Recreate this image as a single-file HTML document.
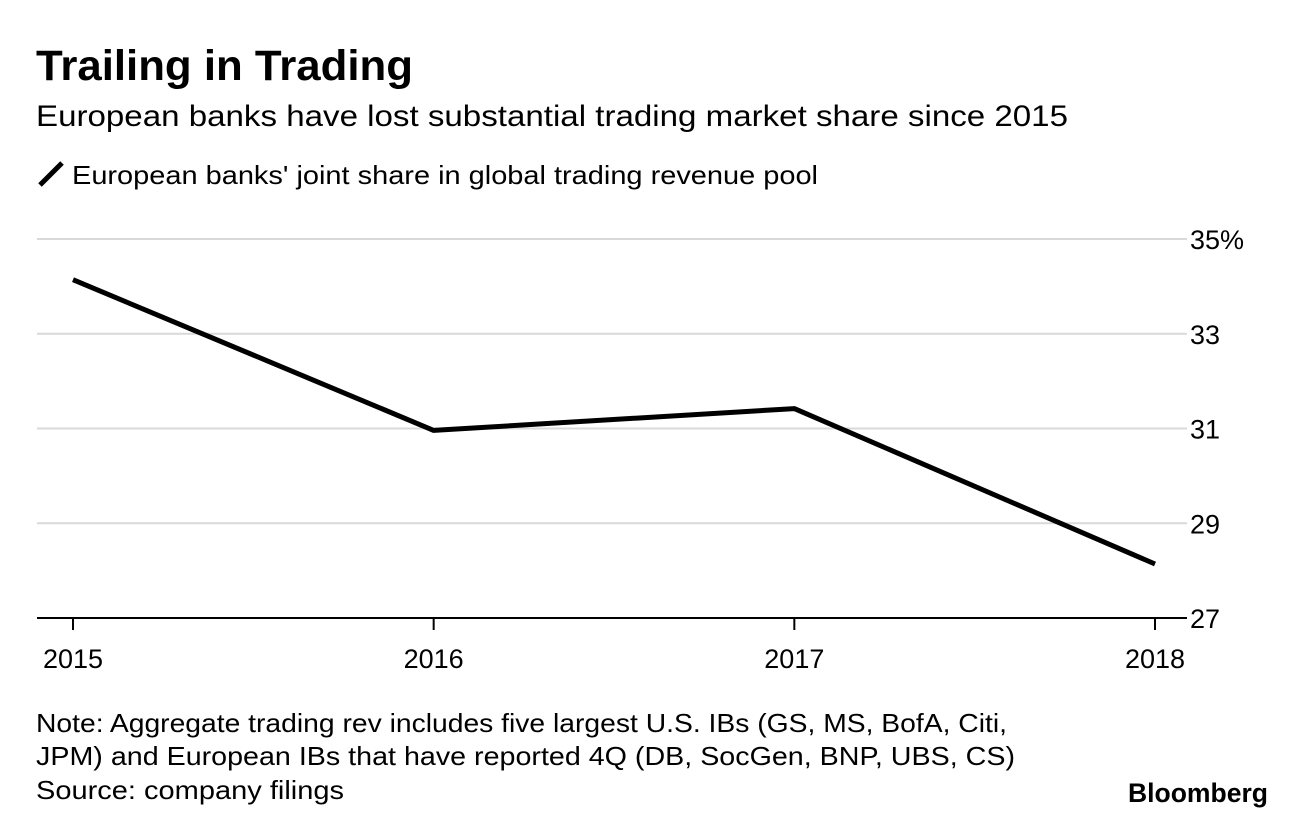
<!DOCTYPE html>
<html><head><meta charset="utf-8"><style>
body{margin:0;background:#fff;width:1296px;height:822px;overflow:hidden;font-family:"Liberation Sans",Arial,sans-serif;color:#000}
svg{position:absolute;left:0;top:0}
</style></head><body>
<svg width="1296" height="822">
<text x="36" y="80" font-size="43" font-weight="bold" textLength="377" lengthAdjust="spacingAndGlyphs">Trailing in Trading</text>
<text x="36" y="126" font-size="30" textLength="1032" lengthAdjust="spacingAndGlyphs">European banks have lost substantial trading market share since 2015</text>
<line x1="40" y1="185" x2="62" y2="163" stroke="#000" stroke-width="5"/>
<text x="72" y="184" font-size="26" textLength="746" lengthAdjust="spacingAndGlyphs">European banks' joint share in global trading revenue pool</text>
<g id="grid"></g><g id="axes"></g>
<polyline id="line" fill="none" stroke="#000" stroke-width="5" stroke-linejoin="round"/>
<text x="36" y="732" font-size="26" textLength="971" lengthAdjust="spacingAndGlyphs">Note: Aggregate trading rev includes five largest U.S. IBs (GS, MS, BofA, Citi,</text>
<text x="36" y="765" font-size="26" textLength="979" lengthAdjust="spacingAndGlyphs">JPM) and European IBs that have reported 4Q (DB, SocGen, BNP, UBS, CS)</text>
<text x="36" y="799" font-size="26" textLength="308" lengthAdjust="spacingAndGlyphs">Source: company filings</text>
<text x="1128" y="802" font-size="27" font-weight="bold" textLength="140" lengthAdjust="spacingAndGlyphs">Bloomberg</text>
</svg>
<script>
const years=["2015","2016","2017","2018"];
const shares=[34.14,30.96,31.42,28.14];
const yTicks=[27,29,31,33,35];
const yTickLabels=["27","29","31","33","35%"];
const NS="http://www.w3.org/2000/svg";
const x=i=>73+i*(1155-73)/(years.length-1);
const y=v=>618-(v-27)*(618-239)/8;
const grid=document.getElementById('grid'),axes=document.getElementById('axes');
function mk(tag,attrs,parent,txt){const e=document.createElementNS(NS,tag);for(const k in attrs)e.setAttribute(k,attrs[k]);if(txt!=null)e.textContent=txt;parent.appendChild(e);return e;}
yTicks.forEach((t,i)=>{
  if(t!==27){const g=mk('line',{x1:37,x2:1187,y1:y(t),y2:y(t),stroke:'#d9d9d9','stroke-width':2},grid);
  
  }
  const l=mk('text',{x:1190,y:y(t)+10,'font-size':27},axes,yTickLabels[i]);
  
  
});
const ax=mk('line',{x1:37,x2:1187,y1:618,y2:618,stroke:'#000','stroke-width':2},axes);


years.forEach((yr,i)=>{
  const tk=mk('line',{x1:x(i),x2:x(i),y1:618,y2:630,stroke:'#000','stroke-width':2},axes);
  
  
  const lb=mk('text',{x:x(i),y:668,'font-size':27,'text-anchor':'middle'},axes,yr);
  
  
});
document.getElementById('line').setAttribute('points',shares.map((v,i)=>x(i)+','+y(v)).join(' '));
</script>
</body></html>
